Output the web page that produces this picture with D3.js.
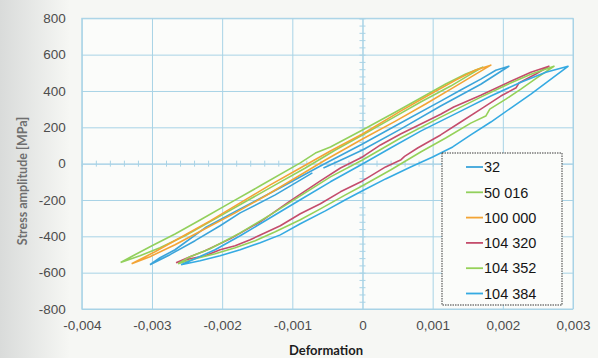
<!DOCTYPE html>
<html>
<head>
<meta charset="utf-8">
<script src="https://cdn.jsdelivr.net/npm/d3@7"></script>
<style>
  body { margin: 0; background: #f6f7f4; }
  svg { display: block; }
</style>
</head>
<body>
<div id="chart"></div>
<script>
// legend labels (cycle numbers) and colours
const seriesNames = ["32", "50 016", "100 000", "104 320", "104 352", "104 384"];
const seriesColors = ["#3ba4da", "#92d05c", "#f3a435", "#c44d6c", "#95d158", "#35aae2"];

const xTicks = [-0.004, -0.003, -0.002, -0.001, 0, 0.001, 0.002, 0.003];
const yTicks = [-800, -600, -400, -200, 0, 200, 400, 600, 800];

// [deformation, stress MPa] — loading branch then unloading branch, null = break in record
const s32 = [
  [-0.003029, -556], [-0.002743, -501], [-0.002386, -424], [-0.002029, -342], [-0.001743, -271],
  [-0.001243, -172], [-0.000714, -51], null,
  [-0.000557, -24], [-0.000243, 31], [0, 75], [0.000543, 190], [0.001114, 317], [0.001686, 437], [0.002086, 536],
  [0.0019, 514], [0.001686, 465], [0.0014, 405], [0.001114, 344], [0.000543, 224], [0, 108],
  [-0.0006, -13], [-0.001171, -133], [-0.001743, -249], [-0.002243, -353], [-0.002671, -474],
  [-0.002886, -518], [-0.003029, -556]
];
const s50016 = [
  [-0.003447, -544], [-0.003171, -507], [-0.002886, -463], [-0.002529, -397], [-0.0021, -304],
  [-0.001671, -210], [-0.001243, -117], [-0.000814, -24], [-0.000386, 75], [0, 158], [0.0004, 245],
  [0.000829, 339], [0.001257, 427], [0.001543, 493], [0.001714, 531],
  [0.001471, 493], [0.001186, 438], [0.000829, 361], [0.000471, 284], [0, 185], [-0.000457, 92],
  [-0.000671, 58], [-0.000886, 4], [-0.001457, -122], [-0.001886, -216], [-0.002314, -310],
  [-0.002671, -387], [-0.003, -452], [-0.003243, -501], [-0.003447, -544]
];
const s100000 = [
  [-0.00329, -551], [-0.003029, -512], [-0.002671, -446], [-0.002243, -358], [-0.001814, -271],
  [-0.001386, -178], [-0.000957, -79], [-0.000529, 20], [0, 136], [0.000471, 234], [0.0009, 328],
  [0.001329, 427], [0.001614, 493], [0.001829, 542],
  [0.001614, 515], [0.001329, 460], [0.000971, 383], [0.000543, 289], [0, 163], [-0.000457, 70],
  [-0.000886, -24], [-0.001314, -117], [-0.001743, -216], [-0.002171, -315], [-0.0026, -408],
  [-0.002957, -485], [-0.00329, -551]
];
const s104320 = [
  [-0.002657, -545], [-0.002457, -523], [-0.002243, -507], [-0.002029, -474], [-0.001814, -452],
  [-0.0016, -419], [-0.001386, -380], [-0.001171, -342], [-0.000886, -276], [-0.0006, -221],
  [-0.000314, -155], [0, -95], [0.000329, -18], [0.00055, 22], [0.0006, 40], [0.000786, 86],
  [0.001114, 158], [0.0014, 229], [0.001686, 300], [0.001971, 372], [0.00219, 418], [0.00223, 444],
  [0.002471, 493], [0.002657, 536],
  [0.0024, 503], [0.002114, 454], [0.001686, 377], [0.0013, 312], [0.001114, 272], [0.000543, 163],
  [0.000257, 103], [0, 37], [-0.000314, -24], [-0.0006, -95], [-0.001029, -205], [-0.001457, -320],
  [-0.001886, -414], [-0.002243, -479], [-0.002457, -512], [-0.002657, -545]
];
const s104352 = [
  [-0.002629, -551], [-0.002386, -523], [-0.0021, -496], [-0.001814, -463], [-0.001529, -424],
  [-0.001243, -375], [-0.000886, -309], [-0.0006, -249], [-0.000243, -172], [0, -122], [0.0004, -35],
  [0.000829, 64], [0.001186, 141], [0.001543, 223], [0.001757, 262], [0.001814, 300], [0.002043, 355],
  [0.002257, 410], [0.0025, 476], [0.002729, 536],
  [0.0024, 492], [0.002043, 432], [0.001686, 366], [0.001114, 256], [0.000543, 141], [0, 20],
  [-0.000457, -73], [-0.000886, -177], [-0.001314, -282], [-0.001743, -381], [-0.002171, -468],
  [-0.002457, -512], [-0.002629, -551]
];
const s104384 = [
  [-0.002586, -556], [-0.002314, -534], [-0.002029, -507], [-0.001743, -474], [-0.001457, -435],
  [-0.001171, -392], [-0.000886, -331], [-0.000529, -260], [-0.000243, -199], [0, -149],
  [0.000329, -84], [0.000686, -18], [0.001, 37], [0.001286, 92], [0.001543, 158], [0.001829, 229],
  [0.002114, 306], [0.0024, 383], [0.002686, 465], [0.002929, 536],
  [0.002614, 503], [0.002257, 448], [0.001829, 372], [0.0014, 289], [0.000829, 179], [0.0004, 86],
  [0, -2], [-0.000457, -100], [-0.000886, -199], [-0.001314, -298], [-0.001743, -397],
  [-0.0021, -474], [-0.002386, -523], [-0.002586, -556]
];
const seriesData = [s32, s50016, s100000, s104320, s104352, s104384];

const W = 598, H = 358;
const gridColor = "#a8d3e6";

const svg = d3.select("#chart").append("svg")
  .attr("width", W).attr("height", H);

// scan shading on the left edge
const defs = svg.append("defs");
const grad = defs.append("linearGradient").attr("id", "shade");
grad.append("stop").attr("offset", "0%").attr("stop-color", "#d9dbda");
grad.append("stop").attr("offset", "100%").attr("stop-color", "#f6f7f4");
svg.append("rect").attr("width", W).attr("height", H).attr("fill", "#f6f7f4");
svg.append("rect").attr("width", 70).attr("height", H).attr("fill", "url(#shade)");

const x = d3.scaleLinear().domain([-0.004, 0.003]).range([81.8, 573]);
const y = d3.scaleLinear().domain([-800, 800]).range([309, 18.3]);

svg.append("rect")
  .attr("x", x(-0.004)).attr("y", y(800))
  .attr("width", x(0.003) - x(-0.004)).attr("height", y(-800) - y(800))
  .attr("fill", "#fbfcfa");

// grid
svg.append("g")
  .attr("transform", `translate(0,${y(-800)})`)
  .call(d3.axisBottom(x).tickValues(xTicks).tickSize(-(y(-800) - y(800))).tickFormat(""))
  .call(g => g.select(".domain").remove())
  .call(g => g.selectAll("line").attr("stroke", gridColor));
svg.append("g")
  .attr("transform", `translate(${x(-0.004)},0)`)
  .call(d3.axisLeft(y).tickValues(yTicks).tickSize(-(x(0.003) - x(-0.004))).tickFormat(""))
  .call(g => g.select(".domain").remove())
  .call(g => g.selectAll("line").attr("stroke", gridColor));

svg.append("rect")
  .attr("x", x(-0.004)).attr("y", y(800))
  .attr("width", x(0.003) - x(-0.004)).attr("height", y(-800) - y(800))
  .attr("fill", "none").attr("stroke", gridColor);

// zero axes with minor crossing ticks
svg.append("g")
  .attr("transform", `translate(0,${y(0)})`)
  .call(d3.axisBottom(x).tickValues(d3.range(-0.004, 0.00301, 0.0002)).tickSize(3).tickFormat(""))
  .call(g => g.select(".domain").attr("stroke", gridColor))
  .call(g => g.selectAll("line").attr("stroke", gridColor).attr("y1", -3));
svg.append("g")
  .attr("transform", `translate(${x(0)},0)`)
  .call(d3.axisLeft(y).tickValues(d3.range(-800, 801, 40)).tickSize(3).tickFormat(""))
  .call(g => g.select(".domain").attr("stroke", gridColor))
  .call(g => g.selectAll("line").attr("stroke", gridColor).attr("x1", 3));

// tick labels
const fmtX = d => d === 0 ? "0" : d3.format(".3f")(d).replace(".", ",").replace("−", "-");
svg.append("g")
  .attr("transform", `translate(0,${y(-800) + 8})`)
  .call(d3.axisBottom(x).tickValues(xTicks).tickSize(0).tickFormat(fmtX))
  .call(g => g.select(".domain").remove())
  .call(g => g.selectAll("text")
    .attr("font-family", "Liberation Sans, Arial, sans-serif")
    .attr("font-size", 13.5).attr("fill", "#4d4d4d"));
svg.append("g")
  .attr("transform", `translate(${x(-0.004) - 13},0)`)
  .call(d3.axisLeft(y).tickValues(yTicks).tickSize(0).tickFormat(d => String(d)))
  .call(g => g.select(".domain").remove())
  .call(g => g.selectAll("text")
    .attr("font-family", "Liberation Sans, Arial, sans-serif")
    .attr("font-size", 13.5).attr("fill", "#4d4d4d"));

// axis titles
svg.append("text")
  .attr("transform", `translate(27,181) rotate(-90)`)
  .attr("text-anchor", "middle")
  .attr("font-family", "Lato, sans-serif").attr("font-weight", 700)
  .attr("font-size", 12.5).attr("fill", "#6f6f6f")
  .text("Stress amplitude  [MPa]");
svg.append("text")
  .attr("x", 326).attr("y", 355)
  .attr("text-anchor", "middle")
  .attr("font-family", "Lato, sans-serif").attr("font-weight", 700)
  .attr("font-size", 13).attr("fill", "#1d1d1d")
  .text("Deformation");

// loops
const line = d3.line()
  .defined(d => d !== null)
  .x(d => x(d[0]))
  .y(d => y(d[1]));

svg.append("g").selectAll("path")
  .data(seriesData)
  .join("path")
  .attr("d", line)
  .attr("fill", "none")
  .attr("stroke", (d, i) => seriesColors[i])
  .attr("stroke-width", 1.6)
  .attr("stroke-linejoin", "round");

// legend
const lg = svg.append("g").attr("transform", "translate(442,153)");
lg.append("rect")
  .attr("width", 120).attr("height", 152)
  .attr("fill", "#fbfcfa")
  .attr("stroke", "#3a3a3a").attr("stroke-dasharray", "1.5,1");
const rows = lg.selectAll("g.row")
  .data(seriesNames)
  .join("g")
  .attr("class", "row")
  .attr("transform", (d, i) => `translate(0,${14 + i * 25.3})`);
rows.append("line")
  .attr("x1", 24).attr("x2", 41)
  .attr("stroke", (d, i) => seriesColors[i]).attr("stroke-width", 1.8);
rows.append("text")
  .attr("x", 42).attr("dy", "0.36em")
  .attr("font-family", "Liberation Sans, Arial, sans-serif")
  .attr("font-size", 14.5).attr("fill", "#151515")
  .text(d => d);
</script>
</body>
</html>
